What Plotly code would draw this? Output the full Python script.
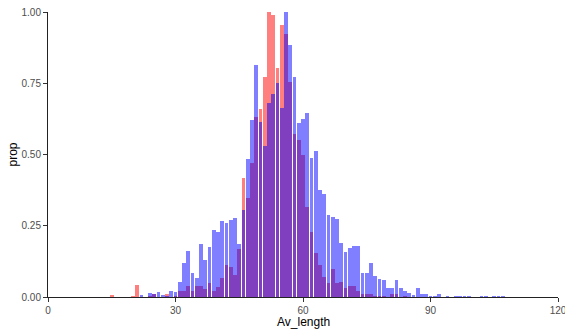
import plotly.graph_objects as go

# Bin centres (Av_length) and proportions
lengths = list(range(14, 108))

red_prop = {
    15: 0.008, 20: 0.005, 21: 0.043, 24: 0.005, 25: 0.011, 28: 0.01, 30: 0.003,
    31: 0.02, 32: 0.02, 33: 0.04, 34: 0.02, 35: 0.04, 36: 0.039, 37: 0.027,
    38: 0.05, 39: 0.02, 40: 0.035, 41: 0.065, 42: 0.111, 43: 0.104, 44: 0.077,
    45: 0.17, 46: 0.416, 47: 0.346, 48: 0.469, 49: 0.63, 50: 0.66, 51: 0.771,
    52: 1.0, 53: 0.99, 54: 0.802, 55: 0.954, 56: 0.923, 57: 0.755, 58: 0.572,
    59: 0.55, 60: 0.5, 61: 0.315, 62: 0.229, 63: 0.153, 64: 0.112, 65: 0.071,
    66: 0.05, 67: 0.1, 68: 0.05, 69: 0.054, 70: 0.03, 71: 0.037, 72: 0.037,
    73: 0.02, 74: 0.01, 75: 0.01, 76: 0.01, 77: 0.005, 78: 0.005, 79: 0.005,
    81: 0.01, 82: 0.01, 84: 0.005,
}

blue_prop = {
    22: 0.006, 24: 0.013, 25: 0.01, 26: 0.018, 27: 0.006, 28: 0.004, 29: 0.021,
    30: 0.016, 31: 0.054, 32: 0.12, 33: 0.162, 34: 0.085, 35: 0.065, 36: 0.185,
    37: 0.13, 38: 0.177, 39: 0.235, 40: 0.227, 41: 0.268, 42: 0.26, 43: 0.27,
    44: 0.277, 45: 0.187, 46: 0.305, 47: 0.485, 48: 0.62, 49: 0.814, 50: 0.615,
    51: 0.531, 52: 0.682, 53: 0.711, 54: 0.75, 55: 0.664, 56: 1.0, 57: 0.884,
    58: 0.771, 59: 0.609, 60: 0.623, 61: 0.647, 62: 0.487, 63: 0.513, 64: 0.375,
    65: 0.36, 66: 0.288, 67: 0.28, 68: 0.273, 69: 0.188, 70: 0.159, 71: 0.171,
    72: 0.179, 73: 0.179, 74: 0.083, 75: 0.083, 76: 0.12, 77: 0.074, 78: 0.064,
    79: 0.058, 80: 0.03, 81: 0.033, 82: 0.06, 83: 0.033, 84: 0.022, 85: 0.015,
    86: 0.008, 87: 0.033, 88: 0.01, 89: 0.01, 90: 0.003, 91: 0.003, 92: 0.012,
    94: 0.004, 96: 0.004, 97: 0.004, 98: 0.004, 99: 0.004, 102: 0.004,
    103: 0.004, 105: 0.004, 106: 0.004, 107: 0.004,
}

red_values = [red_prop.get(v, 0) for v in lengths]
blue_values = [blue_prop.get(v, 0) for v in lengths]

x_ticks = [0, 30, 60, 90, 120]
y_ticks = [0, 0.25, 0.5, 0.75, 1.0]

fig = go.Figure()
fig.add_trace(go.Bar(x=lengths, y=red_values, width=0.9,
                     marker=dict(color="rgba(255,0,0,0.5)", line=dict(width=0)),
                     showlegend=False))
fig.add_trace(go.Bar(x=lengths, y=blue_values, width=0.9,
                     marker=dict(color="rgba(0,0,255,0.5)", line=dict(width=0)),
                     showlegend=False))

axis_font = dict(family="Liberation Sans, Arial, sans-serif", size=10, color="#4D4D4D")
title_font = dict(family="Liberation Sans, Arial, sans-serif", size=12, color="#000000")

fig.update_layout(
    width=565, height=331,
    margin=dict(l=48, r=7, t=12, b=34, autoexpand=False),
    barmode="overlay",
    bargap=0,
    plot_bgcolor="white",
    paper_bgcolor="white",
    xaxis=dict(range=[0, 120], tickvals=x_ticks, ticktext=[str(t) for t in x_ticks],
               showgrid=False, zeroline=False, showline=True, linecolor="#222222",
               linewidth=1, ticks="outside", ticklen=4, tickcolor="#333333",
               tickfont=axis_font, automargin=False, ticklabeloverflow="allow"),
    yaxis=dict(range=[0, 1.0], tickvals=y_ticks, tickformat=".2f",
               showgrid=False, zeroline=False, showline=True, linecolor="#222222",
               linewidth=1, ticks="outside", ticklen=4, tickcolor="#333333",
               tickfont=axis_font, automargin=False, ticklabeloverflow="allow"),
    annotations=[
        dict(text="Av_length", xref="paper", yref="paper", x=0.5, y=0,
             yshift=-16, xanchor="center", yanchor="top", showarrow=False,
             font=title_font),
        dict(text="prop", xref="paper", yref="paper", x=0, y=0.5,
             xshift=-36, xanchor="center", yanchor="middle", textangle=-90,
             showarrow=False, font=title_font),
    ],
)

fig.write_html("out.html", config={"displayModeBar": False},
               post_script="document.body.style.margin='0';document.body.style.overflow='hidden';")
